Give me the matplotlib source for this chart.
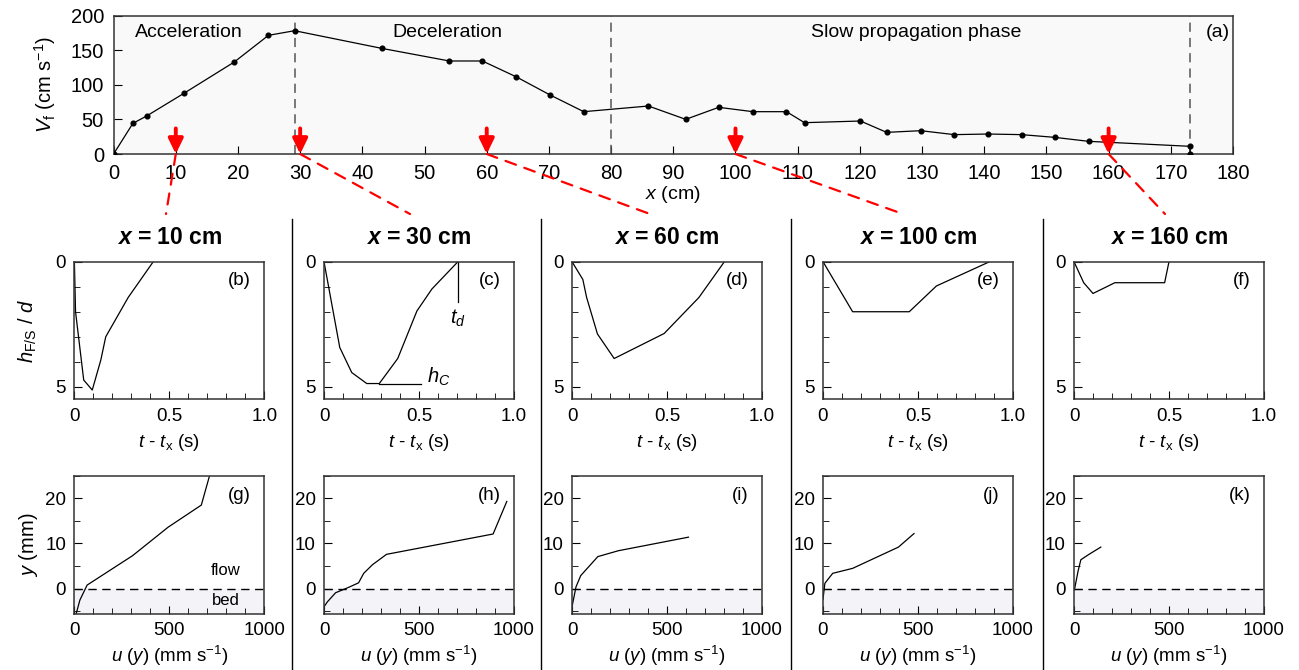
import matplotlib
matplotlib.use("Agg")
import matplotlib.pyplot as plt
from matplotlib.lines import Line2D
from matplotlib.patches import ConnectionPatch
from matplotlib.ticker import MultipleLocator

plt.rcParams["font.family"] = ["Liberation Sans", "DejaVu Sans"]
plt.rcParams["mathtext.fontset"] = "custom"
plt.rcParams["mathtext.rm"] = "Liberation Sans"
plt.rcParams["mathtext.it"] = "Liberation Sans:italic"
plt.rcParams["mathtext.bf"] = "Liberation Sans:bold"
plt.rcParams["mathtext.bfit"] = "Liberation Sans:bold:italic"

# --- panel (a): front velocity along the flume ---
front_x = [0, 3.1, 5.3, 11.3, 19.4, 24.9, 29.1, 43.1, 54.0, 59.3, 64.7, 70.2, 75.6,
           86.0, 92.0, 97.3, 102.8, 108.2, 111.1, 120.1, 124.3, 129.8, 135.2, 140.6,
           146.0, 151.3, 156.8, 173.1, 173.1]
front_v = [0, 44.3, 54.9, 87.7, 133.0, 171.6, 178.3, 152.8, 134.5, 134.5, 111.8, 85.3, 61.2,
           69.4, 50.1, 67.5, 61.2, 61.2, 45.3, 47.7, 31.3, 33.7, 28.0, 28.9,
           28.0, 24.1, 18.3, 11.1, 0]
phase_bounds = [29.1, 80, 173.1]
phase_names = ["Acceleration", "Deceleration", "Slow propagation phase"]
phase_label_x = [12.1, 53.7, 129.1]
arrow_x = [10, 30, 60, 100, 160]
column_titles = ["10", "30", "60", "100", "160"]

# --- panels (b)-(f): free-surface depth vs time ---
h_t = [
    [0, 0.006, 0.049, 0.094, 0.139, 0.165, 0.283, 0.415],
    [0, 0.083, 0.146, 0.225, 0.291, 0.388, 0.489, 0.568, 0.705],
    [0, 0.057, 0.077, 0.134, 0.222, 0.485, 0.668, 0.802],
    [0, 0.156, 0.454, 0.597, 0.877],
    [0, 0.051, 0.100, 0.215, 0.477, 0.500],
]
h_d = [
    [0, 2.0, 4.73, 5.13, 3.93, 3.0, 1.43, 0],
    [0, 3.43, 4.43, 4.87, 4.87, 3.87, 1.97, 1.09, 0],
    [0, 0.71, 1.43, 2.89, 3.87, 2.87, 1.43, 0],
    [0, 2.0, 2.0, 0.97, 0],
    [0, 0.84, 1.27, 0.84, 0.84, 0],
]
mid_labels = ["(b)", "(c)", "(d)", "(e)", "(f)"]

# --- panels (g)-(k): velocity profiles ---
u_vals = [
    [9, 29, 67, 306, 493, 668, 712],
    [0, 18, 61, 130, 182, 209, 255, 329, 890, 962],
    [0, 21, 46, 136, 244, 613],
    [0, 10, 51, 156, 397, 479],
    [2, 21, 36, 79, 141],
]
y_vals = [
    [-5.6, -2.5, 0.8, 7.3, 13.6, 18.5, 25.1],
    [-4.0, -2.9, -0.9, 0.3, 1.3, 3.4, 5.3, 7.6, 12.1, 19.3],
    [-4.0, 0.4, 2.9, 7.1, 8.4, 11.4],
    [-2.3, 1.2, 3.4, 4.5, 9.2, 12.2],
    [-0.3, 3.8, 6.4, 7.6, 9.2],
]
bot_labels = ["(g)", "(h)", "(i)", "(j)", "(k)"]

W, H = 1299, 670
fig = plt.figure(figsize=(W / 100, H / 100), dpi=100)


def fx(px):
    return px / W


def fy(py):
    return 1 - py / H


TICK_FS = 13.5
LABEL_FS = 13.5

# top panel
ax = fig.add_axes([fx(113.6), fy(154), fx(1233 - 113.6), (154 - 15.7) / H])
ax.set_facecolor("#f9f9f9")
ax.plot(front_x, front_v, color="black", lw=0.9, marker="o", ms=3.4, zorder=3)
for b in phase_bounds:
    ax.axvline(b, color="#555555", lw=1.1, ls=(0, (6, 4)), zorder=2)
for name, px in zip(phase_names, phase_label_x):
    ax.text(px, 176, name, ha="center", va="center", fontsize=14)
ax.text(177.5, 176, "(a)", ha="center", va="center", fontsize=14)
ax.set_xlim(0, 180)
ax.set_ylim(0, 200)
ax.xaxis.set_major_locator(MultipleLocator(10))
ax.yaxis.set_major_locator(MultipleLocator(50))
ax.tick_params(direction="in", length=6, labelsize=14.5, pad=7)
ax.set_xlabel(r"$x$ (cm)", fontsize=14, labelpad=1)
ax.set_ylabel(r"$V_\mathrm{f}$ (cm s$^{-1}$)", fontsize=14.5, labelpad=9)

ends_px = [(166, 214), (410, 214), (650, 214), (903, 214), (1165, 214)]
for xa, (ex, ey) in zip(arrow_x, ends_px):
    ax.annotate("", xy=(xa, 0), xytext=(xa, 37),
                arrowprops=dict(arrowstyle="-|>,head_length=0.45,head_width=0.22",
                                color="red", lw=2.8, shrinkA=0, shrinkB=0,
                                mutation_scale=20),
                annotation_clip=False, zorder=5)
    con = ConnectionPatch(xyA=(xa, 0), coordsA=ax.transData,
                          xyB=(fx(ex), fy(ey)), coordsB="figure fraction",
                          color="red", lw=1.6, ls=(0, (5, 4)))
    fig.add_artist(con)

lefts = [74.4, 324, 572, 823, 1074]
width = 190

for i, left in enumerate(lefts):
    # middle row
    am = fig.add_axes([fx(left), fy(399.3), width / W, (399.3 - 261.7) / H])
    am.plot(h_t[i], h_d[i], color="black", lw=0.9)
    am.set_xlim(0, 1.0)
    am.set_ylim(5.5, 0)
    am.set_xticks([0, 0.5, 1.0])
    am.set_xticklabels(["0", "0.5", "1.0"])
    am.set_yticks([0, 5])
    am.xaxis.set_minor_locator(MultipleLocator(0.1))
    am.yaxis.set_minor_locator(MultipleLocator(1))
    am.tick_params(which="both", direction="in", labelsize=TICK_FS, pad=6)
    am.tick_params(which="major", length=6)
    am.tick_params(which="minor", length=4)
    am.set_xlabel(r"$t$ - $t_\mathrm{x}$ (s)", fontsize=LABEL_FS, labelpad=5)
    am.text(0.93, 0.86, mid_labels[i], transform=am.transAxes, ha="right",
            va="center", fontsize=TICK_FS)
    am.set_title(r"$\mathbfit{x}$ = " + column_titles[i] + " cm",
                 fontsize=16.5, fontweight="bold", pad=13)
    if i == 0:
        am.set_ylabel(r"$h_\mathrm{F/S}$ / $d$", fontsize=14.5, labelpad=12)
    if i == 1:
        am.plot([h_t[1][-1], h_t[1][-1]], [0, 1.63], color="black", lw=0.9)
        am.text(h_t[1][-1], 2.25, r"$t_d$", ha="center", va="center", fontsize=14.5)
        am.plot([h_t[1][4], 0.51], [h_d[1][4], h_d[1][4]], color="black", lw=0.9)
        am.text(0.54, 4.6, r"$h_C$", ha="left", va="center", fontsize=14.5)

    # bottom row
    ab = fig.add_axes([fx(left), fy(614), width / W, (614 - 475.7) / H])
    ab.axhspan(-5.6, 0, color="#f3f3f8", lw=0, zorder=0)
    ab.axhline(0, color="black", lw=1.0, ls=(0, (6, 4)), zorder=1)
    ab.plot(u_vals[i], y_vals[i], color="black", lw=0.9, zorder=2)
    ab.set_xlim(0, 1000)
    ab.set_ylim(-5.6, 25)
    ab.set_xticks([0, 500, 1000])
    ab.set_yticks([0, 10, 20])
    ab.xaxis.set_minor_locator(MultipleLocator(100))
    ab.yaxis.set_minor_locator(MultipleLocator(5))
    ab.tick_params(which="both", direction="in", labelsize=TICK_FS, pad=6)
    ab.tick_params(which="major", length=6)
    ab.tick_params(which="minor", length=4)
    ab.set_xlabel(r"$u$ ($y$) (mm s$^{-1}$)", fontsize=LABEL_FS, labelpad=3)
    ab.text(0.93, 0.86, bot_labels[i], transform=ab.transAxes, ha="right",
            va="center", fontsize=TICK_FS)
    if i == 0:
        ab.set_ylabel(r"$y$ (mm)", fontsize=14.5, labelpad=4)
        ab.text(795, 4.1, "flow", ha="center", va="center", fontsize=12)
        ab.text(795, -2.7, "bed", ha="center", va="center", fontsize=12)

    for a in (am, ab):
        for s in a.spines.values():
            s.set_linewidth(1.1)
            s.set_color("#333333")

for x in [292, 541, 791, 1043]:
    fig.add_artist(Line2D([fx(x), fx(x)], [fy(219), 0], transform=fig.transFigure,
                          color="black", lw=1.0))

for s in ax.spines.values():
    s.set_linewidth(1.1)
    s.set_color("#333333")

fig.savefig("out.png", dpi=100)
